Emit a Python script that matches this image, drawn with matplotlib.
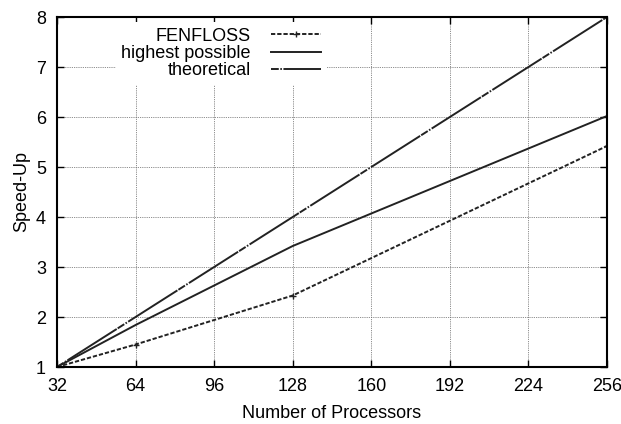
import numpy as np
import matplotlib.pyplot as plt

plt.rcParams['font.family'] = ['Liberation Sans', 'DejaVu Sans']

procs = [32, 64, 128, 256]
fenfloss = [1.0, 1.45, 2.43, 5.42]
highest = [1.0, 1.84, 3.42, 6.02]
theoretical = [1.0, 2.0, 4.0, 8.0]
xticks = [32, 64, 96, 128, 160, 192, 224, 256]
yticks = [1, 2, 3, 4, 5, 6, 7, 8]

fig = plt.figure(figsize=(6.21, 4.24), dpi=100)
ax = fig.add_axes([57 / 621, 57 / 424, 550 / 621, 350 / 424])

ax.plot(procs, fenfloss, color='#222222', lw=1.4, ls=(0, (2.2, 1.0)),
        marker='+', ms=5, mew=1.0, label='FENFLOSS')
ax.plot(procs, highest, color='#222222', lw=1.4, label='highest possible')
ax.plot(procs, theoretical, color='#222222', lw=1.4,
        ls=(0, (4, 0.8, 0.8, 0.8, 30, 0.6)), label='theoretical')

ax.set_xlim(32, 256)
ax.set_ylim(1, 8)
ax.set_xticks(xticks)
ax.set_yticks(yticks)
ax.grid(True, color='#666666', ls=(0, (1, 1.2)), lw=0.6)
ax.tick_params(direction='in', top=True, right=True, length=5, width=1,
               labelsize=13, pad=8)
for s in ax.spines.values():
    s.set_linewidth(1.5)

ax.set_xlabel('Number of Processors', fontsize=13, labelpad=7)
ax.set_ylabel('Speed-Up', fontsize=13, labelpad=4)

leg = ax.legend(loc='upper right', bbox_to_anchor=(0.49, 0.985),
                markerfirst=False, frameon=True, framealpha=1,
                edgecolor='none', fancybox=False, fontsize=13,
                handlelength=2.8, handletextpad=1.1, labelspacing=0.02,
                borderpad=0.3, borderaxespad=0)
leg.get_frame().set_linewidth(0)

fig.savefig('out.png', dpi=100)
